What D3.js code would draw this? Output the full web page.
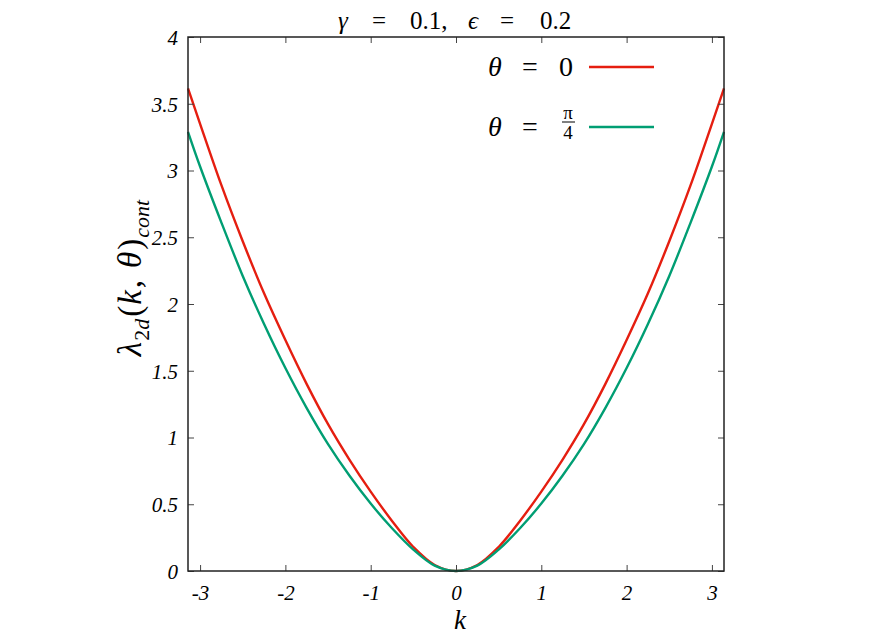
<!DOCTYPE html>
<html>
<head>
<meta charset="utf-8">
<script src="https://cdn.jsdelivr.net/npm/d3@7"></script>
<style>
  html, body { margin: 0; padding: 0; background: #fff; }
</style>
</head>
<body>
<svg id="chart" width="872" height="638"></svg>
<script>
// ---- data ----
const kValues = [-3.1416, -3, -2.75, -2.5, -2.25, -2, -1.75, -1.5, -1.25, -1, -0.75, -0.5, -0.25, 0,
                  0.25, 0.5, 0.75, 1, 1.25, 1.5, 1.75, 2, 2.25, 2.5, 2.75, 3, 3.1416];
const theta0 = [3.616, 3.35, 2.89, 2.47, 2.08, 1.73, 1.40, 1.10, 0.835, 0.595, 0.375, 0.18, 0.045, 0,
                0.045, 0.18, 0.375, 0.595, 0.835, 1.10, 1.40, 1.73, 2.08, 2.47, 2.89, 3.35, 3.616];
const thetaPi4 = [3.29, 3.03, 2.61, 2.21, 1.85, 1.52, 1.22, 0.95, 0.715, 0.505, 0.32, 0.16, 0.04, 0,
                  0.04, 0.16, 0.32, 0.505, 0.715, 0.95, 1.22, 1.52, 1.85, 2.21, 2.61, 3.03, 3.29];
const xTicks = [-3, -2, -1, 0, 1, 2, 3];
const xTickLabels = ["-3", "-2", "-1", "0", "1", "2", "3"];
const yTicks = [0, 0.5, 1, 1.5, 2, 2.5, 3, 3.5, 4];
const yTickLabels = ["0", "0.5", "1", "1.5", "2", "2.5", "3", "3.5", "4"];
const seriesColors = ["#e51e10", "#009e73"];

const SERIF = '"Liberation Serif", "Times New Roman", Tinos, "Noto Serif", "DejaVu Serif", serif';

// ---- layout ----
const svg = d3.select("#chart");
const L = 188, R = 724, T = 37, B = 571;
const x = d3.scaleLinear().domain([-Math.PI, Math.PI]).range([L, R]);
const y = d3.scaleLinear().domain([0, 4]).range([B, T]);

// curves
const series = [theta0, thetaPi4];
const line = d3.line().x(d => x(d[0])).y(d => y(d[1])).curve(d3.curveCatmullRom.alpha(0.5));
series.forEach((vals, i) => {
  svg.append("path")
    .datum(kValues.map((k, j) => [k, vals[j]]))
    .attr("d", line)
    .attr("fill", "none")
    .attr("stroke", seriesColors[i])
    .attr("stroke-width", 2.4);
});

// axes (inward ticks)
const tickFont = g => g.selectAll("text")
  .style("font-family", SERIF)
  .style("font-style", "italic")
  .style("font-size", "21px")
  .attr("fill", "#000");

const xAxis = svg.append("g").attr("transform", `translate(0,${B})`)
  .call(d3.axisBottom(x).tickValues(xTicks).tickSize(-6).tickPadding(14)
    .tickFormat((d, i) => xTickLabels[i]));
xAxis.call(tickFont);
const yAxis = svg.append("g").attr("transform", `translate(${L},0)`)
  .call(d3.axisLeft(y).tickValues(yTicks).tickSize(-6).tickPadding(10)
    .tickFormat((d, i) => yTickLabels[i]));
yAxis.call(tickFont);
yAxis.selectAll("text").attr("dy", "0.35em");
const xTop = svg.append("g").attr("transform", `translate(0,${T})`)
  .call(d3.axisTop(x).tickValues(xTicks).tickSize(-6).tickFormat(""));
const yRight = svg.append("g").attr("transform", `translate(${R},0)`)
  .call(d3.axisRight(y).tickValues(yTicks).tickSize(-6).tickFormat(""));
[xAxis, yAxis, xTop, yRight].forEach(g => {
  g.select(".domain").remove();
  g.selectAll(".tick line").attr("stroke", "#444").attr("stroke-width", 1);
});

// frame
svg.append("rect").attr("x", L).attr("y", T).attr("width", R - L).attr("height", B - T)
  .attr("fill", "none").attr("stroke", "#222").attr("stroke-width", 1.5);

// title (pieces placed to match the reference's wide math spacing)
const titleParts = [
  {t: "γ", x: 338, it: true}, {t: "=", x: 372, it: false}, {t: "0.1,", x: 410, it: false},
  {t: "ϵ", x: 468, it: true}, {t: "=", x: 500, it: false}, {t: "0.2", x: 540, it: false}
];
const title = svg.append("g").style("font-family", SERIF).style("font-size", "25px");
titleParts.forEach(p => {
  title.append("text").attr("x", p.x).attr("y", 29).attr("fill", "#000")
    .style("font-style", p.it ? "italic" : "normal").text(p.t);
});

// x label
svg.append("text").attr("x", 460).attr("y", 629).attr("text-anchor", "middle")
  .style("font-family", SERIF).style("font-size", "27px").style("font-style", "italic").text("k");

// y label
const yl = svg.append("text")
  .attr("transform", "translate(141,278) rotate(-90)")
  .attr("text-anchor", "middle").attr("fill", "#000")
  .style("font-family", SERIF).style("font-size", "33px");
yl.append("tspan").style("font-style", "italic").text("λ");
yl.append("tspan").style("font-size", "22px").attr("dy", 8).attr("dx", 1).text("2");
yl.append("tspan").style("font-size", "22px").style("font-style", "italic").text("d");
yl.append("tspan").attr("dy", -8).attr("dx", 2).text("(");
yl.append("tspan").style("font-style", "italic").attr("dx", 1).text("k");
yl.append("tspan").attr("dx", 2).text(",");
yl.append("tspan").style("font-style", "italic").attr("dx", 12).text("θ");
yl.append("tspan").attr("dx", 2).text(")");
yl.append("tspan").style("font-size", "22px").style("font-style", "italic").attr("dy", 8).attr("dx", 1).text("cont");

// legend
const legendLabels = ["0", "π/4"];
const legendY = [67, 127];
legendLabels.forEach((lab, i) => {
  const gy = legendY[i];
  const g = svg.append("g").style("font-family", SERIF);
  g.append("text").attr("x", 495).attr("y", gy + 9).attr("text-anchor", "middle")
    .style("font-size", "28px").style("font-style", "italic").text("θ");
  g.append("text").attr("x", 530).attr("y", gy + 9).attr("text-anchor", "middle")
    .style("font-size", "28px").text("=");
  if (i === 0) {
    g.append("text").attr("x", 566).attr("y", gy + 9).attr("text-anchor", "middle")
      .style("font-size", "28px").text(lab);
  } else {
    const parts = lab.split("/");
    g.append("text").attr("x", 568).attr("y", gy - 8).attr("text-anchor", "middle")
      .style("font-size", "19px").text(parts[0]);
    g.append("line").attr("x1", 562).attr("x2", 575).attr("y1", gy - 5).attr("y2", gy - 5)
      .attr("stroke", "#000").attr("stroke-width", 1);
    g.append("text").attr("x", 568).attr("y", gy + 12).attr("text-anchor", "middle")
      .style("font-size", "19px").text(parts[1]);
  }
  g.append("line").attr("x1", 589).attr("x2", 654).attr("y1", gy).attr("y2", gy)
    .attr("stroke", seriesColors[i]).attr("stroke-width", 2.4);
});
</script>
</body>
</html>
